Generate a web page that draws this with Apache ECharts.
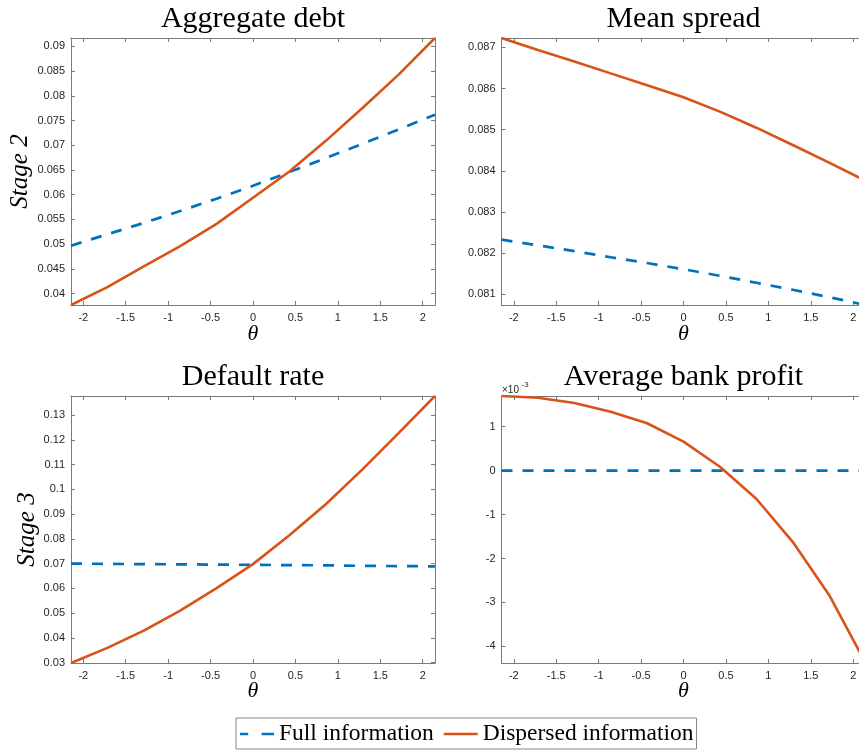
<!DOCTYPE html>
<html><head><meta charset="utf-8">
<script src="https://cdn.jsdelivr.net/npm/echarts@6/dist/echarts.min.js"></script>
<style>html,body{margin:0;padding:0;background:#fff}#c{width:859px;height:750px}</style>
</head><body><div id="c"></div>
<script>
// theta grid
const theta = [-2.145, -1.716, -1.287, -0.858, -0.429, 0, 0.429, 0.858, 1.287, 1.716, 2.145];
const xTickLabels = ['-2', '-1.5', '-1', '-0.5', '0', '0.5', '1', '1.5', '2'];
const panelTitles = ['Aggregate debt', 'Mean spread', 'Default rate', 'Average bank profit'];
const rowLabels = ['Stage 2', 'Stage 3'];
const seriesNames = ['Full information', 'Dispersed information'];

// Aggregate debt (Stage 2)
const debtFull = [0.0497, 0.0520, 0.0543, 0.0567, 0.0592, 0.0618, 0.0646, 0.0674, 0.0703, 0.0732, 0.0762];
const debtDisp = [0.0377, 0.0413, 0.0455, 0.0496, 0.0541, 0.0594, 0.0647, 0.0709, 0.0775, 0.0843, 0.0917];
// Mean spread (Stage 2)
const spreadFull = [0.08233, 0.08219, 0.08205, 0.08190, 0.08176, 0.08161, 0.08145, 0.08128, 0.08111, 0.08093, 0.08074];
const spreadDisp = [0.08723, 0.08694, 0.08666, 0.08637, 0.08608, 0.08579, 0.08544, 0.08505, 0.08463, 0.08420, 0.08376];
// Default rate (Stage 3)
const defaultFull = [0.0700, 0.0699, 0.0698, 0.0697, 0.0696, 0.0695, 0.0694, 0.0693, 0.0691, 0.0690, 0.0689];
const defaultDisp = [0.0298, 0.0359, 0.0429, 0.0510, 0.0601, 0.0698, 0.0815, 0.0940, 0.1080, 0.1228, 0.1378];
// Average bank profit (Stage 3)
const profitFull = [0, 0, 0, 0, 0, 0, 0, 0, 0, 0, 0];
const profitDisp = [0.00170, 0.00166, 0.00154, 0.00134, 0.00108, 0.00066, 0.00009, -0.00064, -0.00162, -0.00283, -0.00438];

const panelData = [[debtFull, debtDisp], [spreadFull, spreadDisp], [defaultFull, defaultDisp], [profitFull, profitDisp]];

const chart = echarts.init(document.getElementById('c'), null, {renderer: 'canvas'});
const gridPos = [
  {left: 71, top: 38}, {left: 501.5, top: 38},
  {left: 71, top: 396}, {left: 501.5, top: 396}
];
const W = 364, H = 267;
const ySplit = [11, 7, 11, 6];
const axisColor = '#7a7a7a';
const blue = '#0072BD', orange = '#D95319';
const sans = '"Liberation Sans", Arial, sans-serif';
const serif = '"Liberation Serif", "Times New Roman", serif';

const option = {
  animation: false,
  backgroundColor: '#fff',
  grid: [], xAxis: [], yAxis: [], series: [], graphic: [],
  legend: {
    left: 236, top: 718, orient: 'horizontal',
    padding: [4, 3, 3, 4], itemGap: 10, itemWidth: 34, itemHeight: 2.6,
    symbolKeepAspect: false,
    borderColor: '#888', borderWidth: 1, borderRadius: 0,
    backgroundColor: '#fff', selectedMode: false,
    textStyle: {fontFamily: serif, fontSize: 23.5, color: '#000'},
    data: [
      {name: seriesNames[0], icon: 'path://M0,0H8V1H0Z M21,0H33V1H21Z',
        itemStyle: {color: blue, borderWidth: 0}},
      {name: seriesNames[1], icon: 'path://M0,0H34V1H0Z',
        itemStyle: {color: orange, borderWidth: 0}}
    ]
  }
};

function mkX(i, pos, primary) {
  return {
    type: 'value', gridIndex: i, min: theta[0], max: theta[theta.length - 1], splitNumber: 9,
    position: pos,
    axisLine: {show: true, onZero: false, lineStyle: {color: axisColor, width: 1}},
    axisTick: {show: true, inside: true, length: 4, lineStyle: {color: axisColor, width: 1}},
    axisLabel: {show: primary, fontFamily: sans, fontSize: 11, color: '#262626', margin: 7,
      showMinLabel: false, showMaxLabel: false,
      formatter: v => { const s = String(+v.toFixed(2)); return xTickLabels.includes(s) ? s : ''; }},
    splitLine: {show: false}
  };
}
function mkY(i, pos, primary, ymin, ymax) {
  return {
    type: 'value', gridIndex: i, min: ymin, max: ymax, splitNumber: ySplit[i],
    position: pos, scale: true,
    axisLine: {show: true, onZero: false, lineStyle: {color: axisColor, width: 1}},
    axisTick: {show: true, inside: true, length: 4, lineStyle: {color: axisColor, width: 1}},
    axisLabel: {show: primary, fontFamily: sans, fontSize: 11, color: '#262626', margin: 6,
      showMinLabel: false, showMaxLabel: false,
      formatter: i === 3 ? (v => String(Math.round(v * 1000))) : undefined},
    splitLine: {show: false}
  };
}

for (let i = 0; i < 4; i++) {
  option.grid.push({left: gridPos[i].left, top: gridPos[i].top, width: W, height: H,
    containLabel: false, outerBoundsMode: 'none', show: false});
}
const ext = panelData.map(p => {
  const all = p[0].concat(p[1]);
  return [Math.min(...all), Math.max(...all)];
});
for (let i = 0; i < 4; i++) option.xAxis.push(mkX(i, 'bottom', true));
for (let i = 0; i < 4; i++) option.xAxis.push(mkX(i, 'top', false));
for (let i = 0; i < 4; i++) option.yAxis.push(mkY(i, 'left', true, ext[i][0], ext[i][1]));
for (let i = 0; i < 4; i++) option.yAxis.push(mkY(i, 'right', false, ext[i][0], ext[i][1]));

for (let i = 0; i < 4; i++) {
  const [full, disp] = panelData[i];
  option.series.push({
    name: seriesNames[0], type: 'line', xAxisIndex: i, yAxisIndex: i,
    data: theta.map((t, k) => [t, full[k]]), symbol: 'none', showSymbol: false, clip: false,
    lineStyle: {color: blue, width: 2.7, type: [11, 10]}, itemStyle: {color: blue}, z: 2
  });
  option.series.push({
    name: seriesNames[1], type: 'line', xAxisIndex: i, yAxisIndex: i,
    data: theta.map((t, k) => [t, disp[k]]), symbol: 'none', showSymbol: false, clip: false,
    lineStyle: {color: orange, width: 2.6, type: 'solid'}, itemStyle: {color: orange}, z: 3
  });
}

function txt(text, x, y, font, opts) {
  return Object.assign({
    type: 'text', x: x, y: y, silent: true,
    style: Object.assign({text: text, font: font, fill: '#000', align: 'center', verticalAlign: 'middle',
      textAlign: 'center', textVerticalAlign: 'middle'}, (opts && opts.style) || {})
  }, (opts && opts.el) || {});
}
const cx = [253, 683.5, 253, 683.5];
const ty = [19.5, 19.5, 377.5, 377.5];
for (let i = 0; i < 4; i++) {
  option.graphic.push(txt(panelTitles[i], cx[i], ty[i], '30px ' + serif));
  option.graphic.push(txt('\u03B8', cx[i], i < 2 ? 334 : 691, 'italic 22px ' + serif));
}
option.graphic.push(txt(rowLabels[0], 20.5, 171.5, 'italic 25px ' + serif, {el: {rotation: Math.PI / 2}}));
option.graphic.push(txt(rowLabels[1], 27, 529.5, 'italic 25px ' + serif, {el: {rotation: Math.PI / 2}}));
option.graphic.push(txt('\u00D710', 502, 390, '10px ' + sans, {style: {align: 'left', textAlign: 'left', fill: '#262626'}}));
option.graphic.push(txt('-3', 521.5, 385, '8px ' + sans, {style: {align: 'left', textAlign: 'left', fill: '#262626'}}));

chart.setOption(option);
</script></body></html>
